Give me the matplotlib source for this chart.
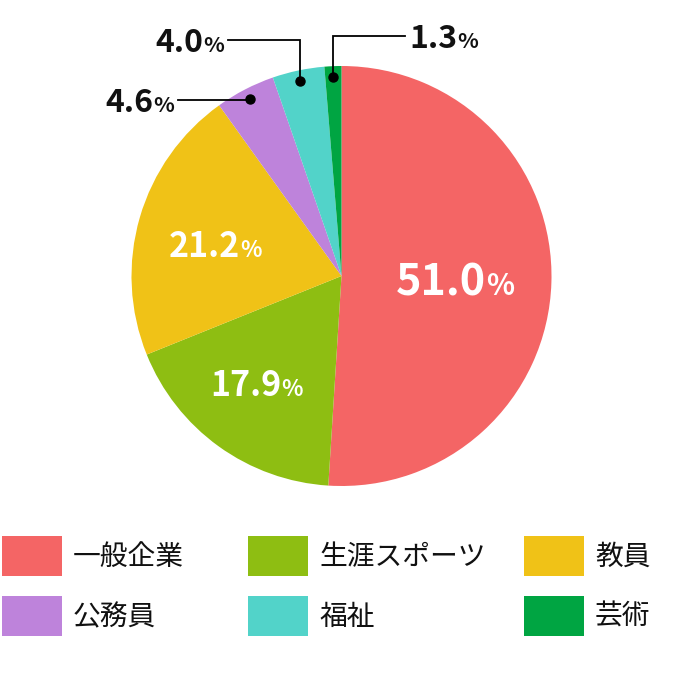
import matplotlib
matplotlib.use('Agg')
import matplotlib.pyplot as plt
from matplotlib.patches import Rectangle
import numpy as np

plt.rcParams['font.family'] = ['Noto Sans CJK JP', 'DejaVu Sans']

# ---- data ----
categories = ['一般企業', '生涯スポーツ', '教員', '公務員', '福祉', '芸術']
values = [51.0, 17.9, 21.2, 4.6, 4.0, 1.3]
colors = ['#F46565', '#8EBE12', '#F0C217', '#BE83DB', '#52D3C9', '#00A542']

# label styling (inside: radial factor, angle shift, sizes; outside: leader geometry)
inside = {0: (0.54, 0, 31, 21), 1: (0.65, 2.5, 24.5, 16), 2: (0.62, -2.0, 24.5, 16)}
outside = {3: (100, -1), 4: (40, -1), 5: (36, 1)}   # label line y, direction

W, H = 680, 700
fig = plt.figure(figsize=(W / 100, H / 100), dpi=100)
ax = fig.add_axes([0, 0, 1, 1])
CX, CY, R = 341.5, 276, 210

wedges, _ = ax.pie(values, colors=colors, startangle=-90, counterclock=True,
                   center=(CX, CY), radius=R, wedgeprops=dict(linewidth=0))
ax.set_xlim(0, W)
ax.set_ylim(H, 0)
ax.set_aspect('equal')
ax.axis('off')

fig.canvas.draw()
renderer = fig.canvas.get_renderer()


def pct_label(x, y, value, s_num, s_pct, color, ha, weight):
    t1 = ax.text(0, 0, f'{value:.1f}', fontsize=s_num, color=color,
                 fontweight=weight, ha='left', va='baseline')
    t2 = ax.text(0, 0, '%', fontsize=s_pct, color=color,
                 fontweight=weight, ha='left', va='baseline')
    w1 = t1.get_window_extent(renderer).width
    w2 = t2.get_window_extent(renderer).width
    tot = w1 + w2
    if ha == 'center':
        left = x - tot / 2
    elif ha == 'right':
        left = x - tot
    else:
        left = x
    cap = 0.733 * s_num * 100 / 72
    base = y + cap / 2
    t1.set_position((left, base))
    t2.set_position((left + w1, base))


for i, w in enumerate(wedges):
    mid = np.deg2rad((w.theta1 + w.theta2) / 2)
    if i in inside:
        f, shift, sn, sp = inside[i]
        a = mid + np.deg2rad(shift)
        x = CX + f * R * np.cos(a)
        y = CY + f * R * np.sin(a)
        pct_label(x, y, values[i], sn, sp, 'white', 'center', 'bold')
    else:
        ly, d = outside[i]
        dx = CX + 0.95 * R * np.cos(mid)
        dy = CY + 0.95 * R * np.sin(mid)
        ex = dx + d * 72
        ax.plot([dx, dx, ex], [dy, ly, ly], color='black', lw=1.3,
                solid_joinstyle='miter', zorder=5)
        ax.plot([dx], [dy], marker='o', markersize=6.5, color='black', zorder=6)
        pct_label(ex + d * 4, ly, values[i], 23, 15.5, '#111111',
                  'right' if d < 0 else 'left', 'bold')

# ---- legend ----
col_x = [2, 248, 524]
row_y = [536, 596]
for i, (cat, col) in enumerate(zip(categories, colors)):
    x = col_x[i % 3]
    y = row_y[i // 3]
    ax.add_patch(Rectangle((x, y), 60, 40, facecolor=col, edgecolor='none'))
    ax.text(x + 71, y + 21, cat, fontsize=20, color='#111111',
            ha='left', va='center')

fig.savefig('out.png', dpi=100)
